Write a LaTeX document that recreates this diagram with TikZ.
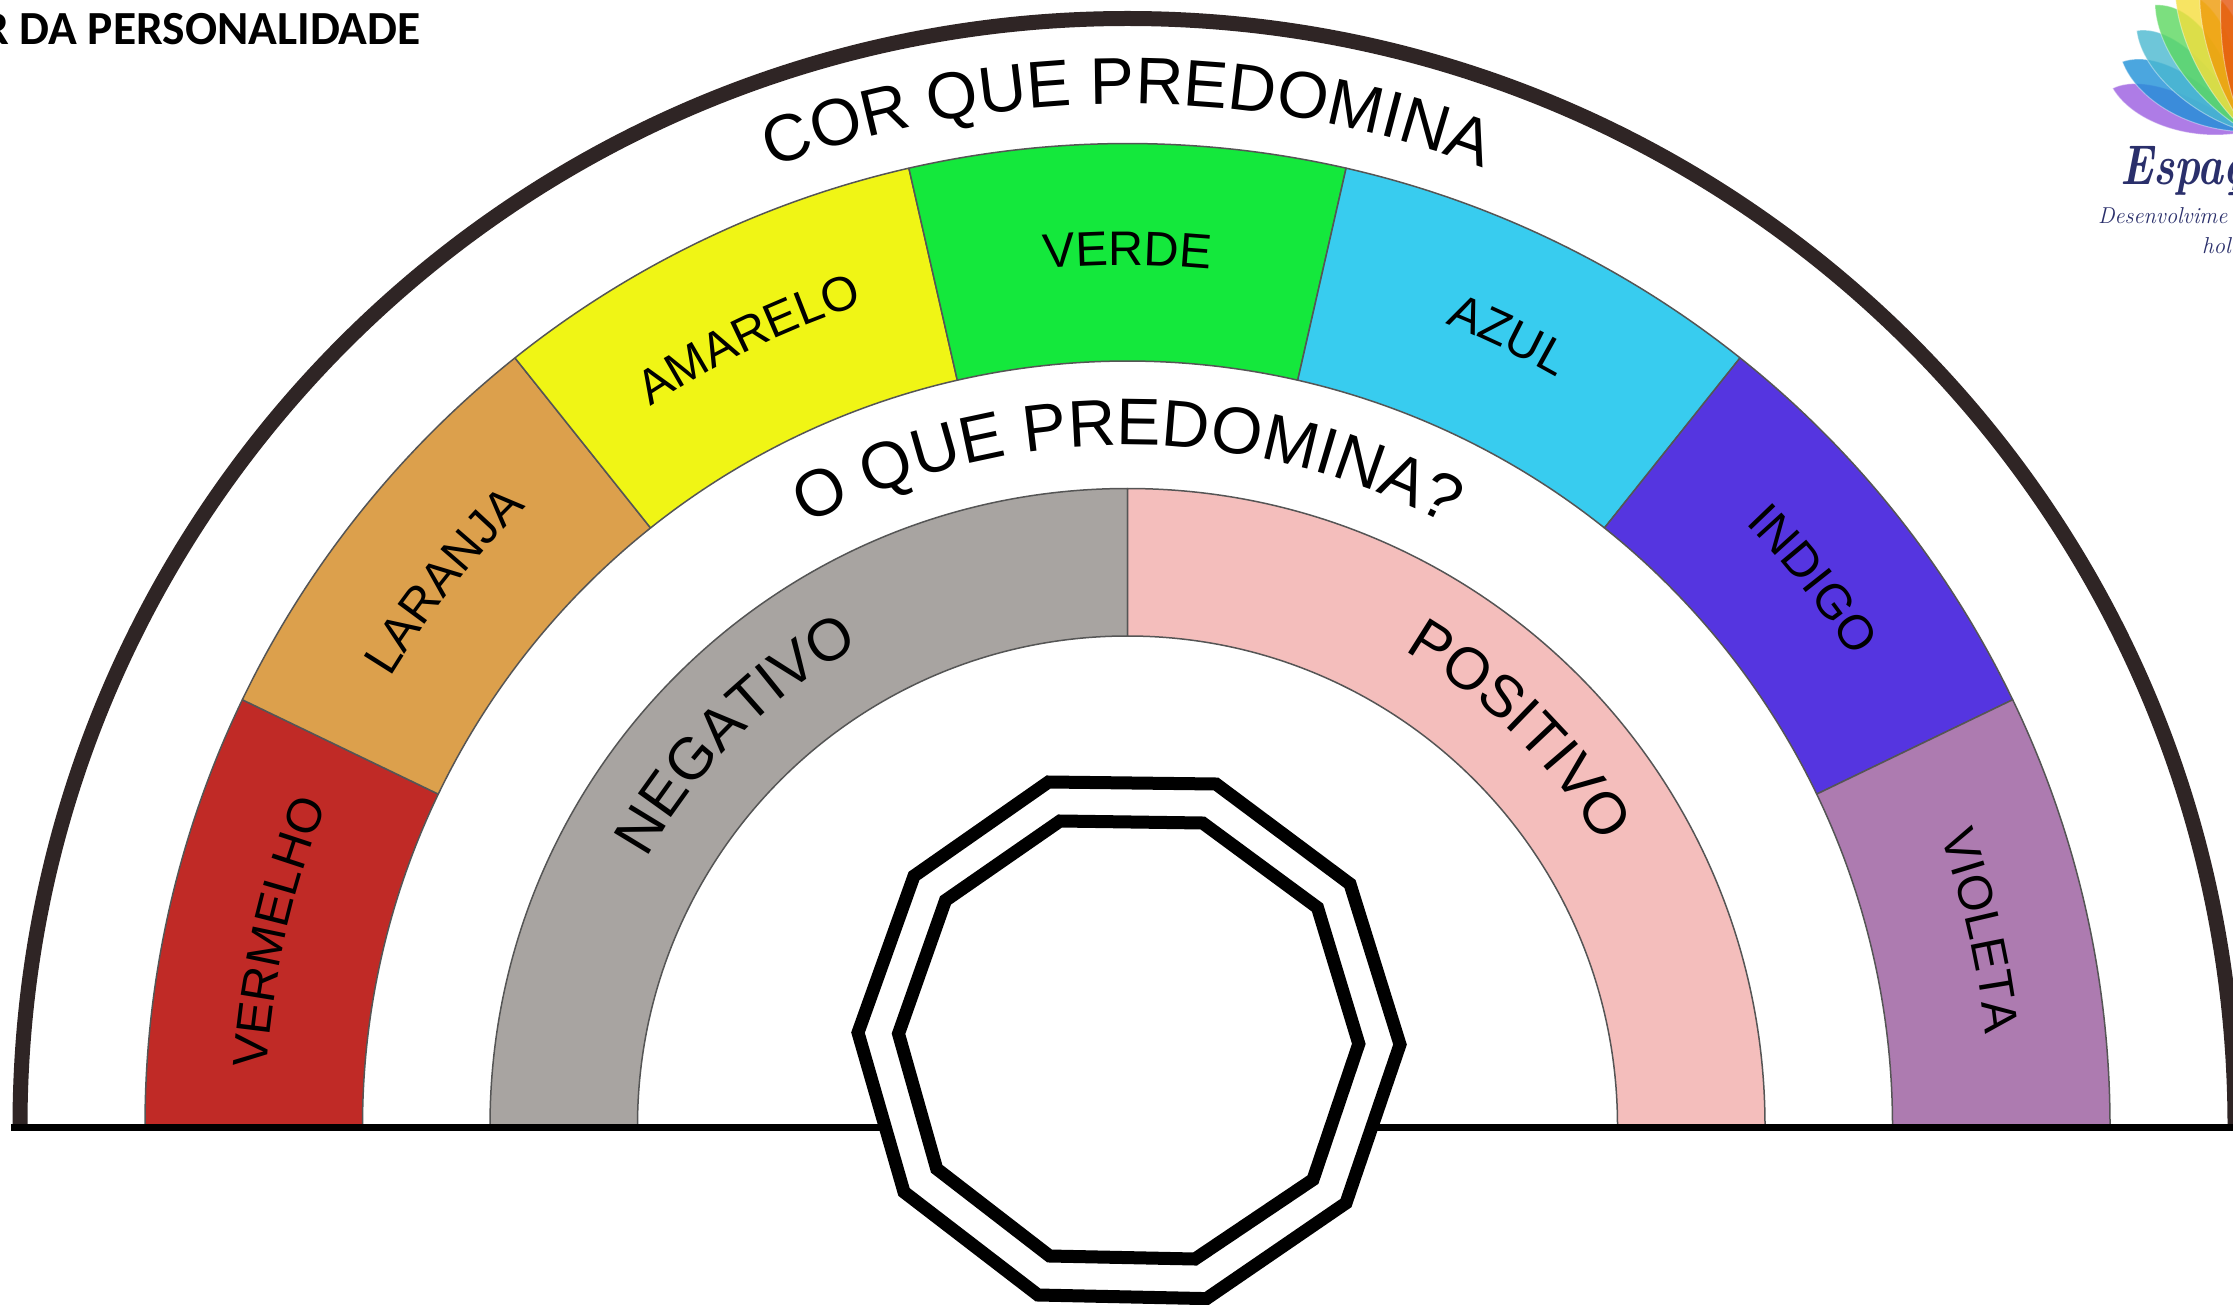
\documentclass[tikz,border=0pt]{standalone}
\usepackage{fontspec}
\usepackage{graphicx}
\setmainfont{Liberation Sans}
\newfontfamily\titlefont{Carlito}[BoldFont={Carlito Bold}]
\newfontfamily\logofont{Latin Modern Roman}
\usetikzlibrary{decorations.text}
\definecolor{cRed}{HTML}{C02A26}
\definecolor{cOrange}{HTML}{DCA04C}
\definecolor{cYellow}{HTML}{F0F515}
\definecolor{cGreen}{HTML}{14E83C}
\definecolor{cCyan}{HTML}{38CCEF}
\definecolor{cIndigo}{HTML}{5535E0}
\definecolor{cViolet}{HTML}{AD7BB0}
\definecolor{cGray}{HTML}{A8A4A1}
\definecolor{cPink}{HTML}{F4BEBC}
\definecolor{cNavy}{HTML}{2A2F6B}
\definecolor{cRim}{HTML}{2F2525}
\definecolor{cEdge}{HTML}{555555}
\definecolor{pPurple}{HTML}{9A5CE0}
\definecolor{pBlue}{HTML}{1F90D8}
\definecolor{pTeal}{HTML}{4AB8D0}
\definecolor{pGreen}{HTML}{5CD860}
\definecolor{pYellow}{HTML}{F5DE3C}
\definecolor{pOrange}{HTML}{EE9A08}
\definecolor{pRed}{HTML}{E4560E}
\newcommand{\arctext}[5]{% centre angle, half span, baseline radius, font px, text
  \path[decorate,decoration={text along path,text align=center,
    text={|\fontsize{#4}{#4}\selectfont|#5}}]
    ({#1+#2}:#3) arc ({#1+#2}:{#1-#2}:#3);}
\newcommand{\bandseg}[5]{% start, end, outer, inner, colour
  \fill[#5] ({#1}:#3) arc ({#1}:{#2}:#3) -- ({#2}:#4) arc ({#2}:{#1}:#4) -- cycle;
  \draw[segline] ({#1}:#3) arc ({#1}:{#2}:#3) -- ({#2}:#4) arc ({#2}:{#1}:#4) -- cycle;}
\tikzset{
  segline/.style={draw=cEdge,line width=1.5pt,line join=round},
  rim/.style={draw=cRim,line width=15pt},
  baseline rule/.style={draw=black,line width=7pt},
  poly/.style={draw=black,line width=13pt,line join=miter,fill=white},
  petal/.style={fill opacity=.8,draw=white,draw opacity=.4,line width=1pt},
}
\begin{document}
\begin{tikzpicture}[x=1pt,y=-1pt]
\useasboundingbox (0,0) rectangle (2233,1305);
\clip (0,0) rectangle (2233,1305);
\fill[white] (0,0) rectangle (2233,1305);
\begin{scope}[shift={(1127.5,1126)},x=1pt,y=1pt]
  \draw[rim] (180:1107.5) arc (180:0:1107.5);
  \bandseg{180}{154.2857}{982.5}{765}{cRed}
  \bandseg{154.2857}{128.5714}{982.5}{765}{cOrange}
  \bandseg{128.5714}{102.8571}{982.5}{765}{cYellow}
  \bandseg{102.8571}{77.1429}{982.5}{765}{cGreen}
  \bandseg{77.1429}{51.4286}{982.5}{765}{cCyan}
  \bandseg{51.4286}{25.7143}{982.5}{765}{cIndigo}
  \bandseg{25.7143}{0}{982.5}{765}{cViolet}
  \bandseg{180}{90}{637.5}{490}{cGray}
  \bandseg{90}{0}{637.5}{490}{cPink}
  \arctext{90}{60}{1022}{66}{COR QUE PREDOMINA}
  \arctext{90}{60}{681}{66}{O QUE PREDOMINA?}
  \arctext{167.14}{40}{863}{48.5}{VERMELHO}
  \arctext{141.43}{40}{863}{48.5}{LARANJA}
  \arctext{115.71}{40}{863}{48.5}{AMARELO}
  \arctext{90}{40}{861}{48.5}{VERDE}
  \arctext{64.29}{40}{863}{48.5}{AZUL}
  \arctext{38.57}{40}{863}{48.5}{INDIGO}
  \arctext{12.86}{40}{863}{48.5}{VIOLETA}
  \arctext{135}{40}{550}{59}{NEGATIVO}
  \arctext{45.3}{40}{550}{59}{POSITIVO}
\end{scope}
\coordinate (ruleL) at (11,1127);
\coordinate (ruleR) at (2233,1127);
\draw[baseline rule] (ruleL) -- (ruleR);
\draw[poly] (1048.5,782) -- (1216,784) -- (1350,884) -- (1400,1044.5) -- (1346,1203)
  -- (1206.5,1298.6) -- (1038,1295) -- (904,1192) -- (858,1032.6) -- (914,876) -- cycle;
\draw[poly] (1060,821) -- (1202.7,823) -- (1317.5,907.6) -- (1358.8,1043.8) -- (1313,1179.6)
  -- (1195,1259) -- (1049.6,1256) -- (936.7,1168.8) -- (898.5,1033.7) -- (945.5,900.4) -- cycle;
\node[anchor=base east,inner sep=0pt,font={\titlefont\bfseries\fontsize{47.5}{47.5}\selectfont}] (title) at (421,45) {R DA PERSONALIDADE};
\begin{scope}[shift={(2000,0)},x=.3333pt,y=-.3333pt]
  \fill[petal,fill=pPurple] (338,265) .. controls (400,370) and (580,430) .. (740,395) .. controls (660,330) and (450,210) .. (338,265) -- cycle;
  \fill[petal,fill=pBlue] (367,185) .. controls (410,300) and (570,395) .. (740,395) .. controls (680,300) and (500,140) .. (367,185) -- cycle;
  \fill[petal,fill=pTeal] (410,92) .. controls (425,220) and (590,355) .. (740,395) .. controls (700,270) and (540,70) .. (410,92) -- cycle;
  \fill[petal,fill=pGreen] (465,15) .. controls (470,160) and (610,320) .. (740,395) .. controls (720,240) and (610,5) .. (465,15) -- cycle;
  \fill[petal,fill=pYellow] (525,-30) .. controls (530,130) and (640,310) .. (740,395) .. controls (740,230) and (680,-20) .. (525,-30) -- cycle;
  \fill[petal,fill=pOrange] (600,-40) .. controls (590,120) and (670,300) .. (740,395) .. controls (770,230) and (740,10) .. (600,-40) -- cycle;
  \fill[petal,fill=pRed] (665,-40) .. controls (650,150) and (690,300) .. (740,395) .. controls (790,250) and (790,40) .. (665,-40) -- cycle;
\end{scope}
\node[anchor=base west,inner sep=0pt,text=cNavy,font={\logofont\bfseries\itshape\fontsize{56}{56}\selectfont}] (logoA) at (2120,185) {\scalebox{.78}[1]{Espaç}};
\node[anchor=base west,inner sep=0pt,text=cNavy,font={\logofont\itshape\fontsize{23}{23}\selectfont}] (logoB) at (2098,224) {\scalebox{.97}[1]{Desenvolvime}};
\node[anchor=base west,inner sep=0pt,text=cNavy,font={\logofont\itshape\fontsize{23}{23}\selectfont}] (logoC) at (2202,254) {hol};
\end{tikzpicture}
\end{document}
